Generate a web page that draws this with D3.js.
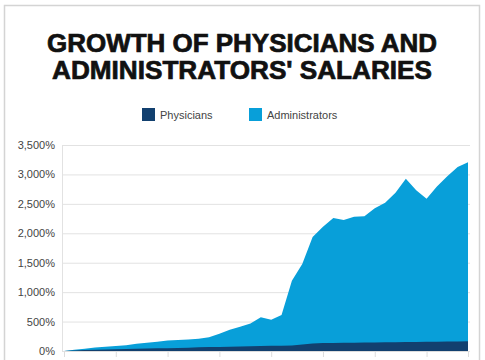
<!DOCTYPE html>
<html>
<head>
<meta charset="utf-8">
<script src="https://cdn.jsdelivr.net/npm/d3@7"></script>
<style>
  html, body { margin: 0; padding: 0; background: #fff; }
  svg { display: block; }
</style>
</head>
<body>
<svg id="chart" width="485" height="360"></svg>
<script>
const years = d3.range(1970, 2010);
const administrators = [0, 20, 38, 58, 74, 87, 96, 122, 140, 158, 180, 186, 194, 208, 232, 292, 362, 412, 468, 572, 532, 612, 1195, 1480, 1935, 2110, 2260, 2225, 2280, 2290, 2425, 2520, 2690, 2925, 2730, 2585, 2795, 2970, 3125, 3205];
const physicians = [0, 8, 15, 22, 26, 30, 34, 38, 42, 45, 48, 53, 57, 62, 66, 70, 74, 78, 82, 85, 88, 91, 95, 112, 126, 134, 137, 140, 142, 144, 146, 148, 150, 152, 154, 156, 158, 160, 162, 165];
const yTicks = [0, 500, 1000, 1500, 2000, 2500, 3000, 3500];
const xTicks = [1975, 1980, 1985, 1990, 1995, 2000, 2005];
const seriesNames = ['Physicians', 'Administrators'];
const colors = {Physicians: '#12406f', Administrators: '#089fd9'};

const svg = d3.select('#chart');

// frame
svg.append('rect')
  .attr('x', 4.5).attr('y', 5.5)
  .attr('width', 475).attr('height', 370)
  .attr('fill', 'none')
  .attr('stroke', '#d4d4d4')
  .attr('stroke-width', 1.5);

// title
const titleLines = ['GROWTH OF PHYSICIANS AND', "ADMINISTRATORS' SALARIES"];
const titleWidths = [390, 380];
svg.selectAll('.title')
  .data(titleLines)
  .join('text')
  .attr('class', 'title')
  .attr('x', 242)
  .attr('y', (d, i) => 52 + i * 27)
  .attr('text-anchor', 'middle')
  .attr('textLength', (d, i) => titleWidths[i])
  .attr('lengthAdjust', 'spacingAndGlyphs')
  .style('font-family', '"Liberation Sans", Arial, sans-serif')
  .style('font-weight', 'bold')
  .style('font-size', '25px')
  .style('fill', '#111')
  .style('stroke', '#111')
  .style('stroke-width', 0.7)
  .text(d => d);

// legend
const legendX = [142, 249];
const legend = svg.selectAll('.legend')
  .data(seriesNames)
  .join('g')
  .attr('class', 'legend')
  .attr('transform', (d, i) => 'translate(' + legendX[i] + ',108)');
legend.append('rect')
  .attr('width', 13).attr('height', 13)
  .attr('fill', d => colors[d]);
legend.append('text')
  .attr('x', 18).attr('y', 10.5)
  .style('font-family', '"Liberation Sans", Arial, sans-serif')
  .style('font-size', '11px')
  .style('fill', '#444')
  .text(d => d);

const x = d3.scaleLinear()
  .domain([1970, 2009])
  .range([64, 468]);

const y = d3.scaleLinear()
  .domain([0, 3500])
  .range([351, 145]);

// y axis with gridlines
svg.append('g')
  .attr('transform', 'translate(62,0)')
  .call(d3.axisLeft(y).tickValues(yTicks).tickSize(0).tickPadding(7)
    .tickFormat(d => d3.format(',')(d) + '%'))
  .call(g => g.select('.domain').remove())
  .call(g => g.selectAll('.tick line').clone()
    .attr('x2', 408)
    .attr('stroke', '#e2e2e2'))
  .call(g => g.selectAll('.tick text')
    .style('font-family', '"Liberation Sans", Arial, sans-serif')
    .style('font-size', '11px')
    .attr('fill', '#444'));

svg.append('line')
  .attr('x1', 62.5).attr('x2', 62.5)
  .attr('y1', 145).attr('y2', 351)
  .attr('stroke', '#e2e2e2');

// areas, drawn from zero, physicians on top
const area = d3.area()
  .x((d, i) => x(years[i]))
  .y0(y(0))
  .y1(d => y(d));

svg.append('path')
  .datum(administrators)
  .attr('d', area)
  .attr('fill', colors.Administrators);

svg.append('path')
  .datum(physicians)
  .attr('d', area)
  .attr('fill', colors.Physicians);

// x axis ticks (year labels fall below the crop)
svg.append('g')
  .attr('transform', 'translate(0,' + y(0) + ')')
  .call(d3.axisBottom(x).tickValues(xTicks).tickSize(6).tickFormat(''))
  .call(g => g.select('.domain').attr('stroke', '#ddd'))
  .call(g => g.selectAll('.tick line').attr('stroke', '#ddd'));
</script>
</body>
</html>
